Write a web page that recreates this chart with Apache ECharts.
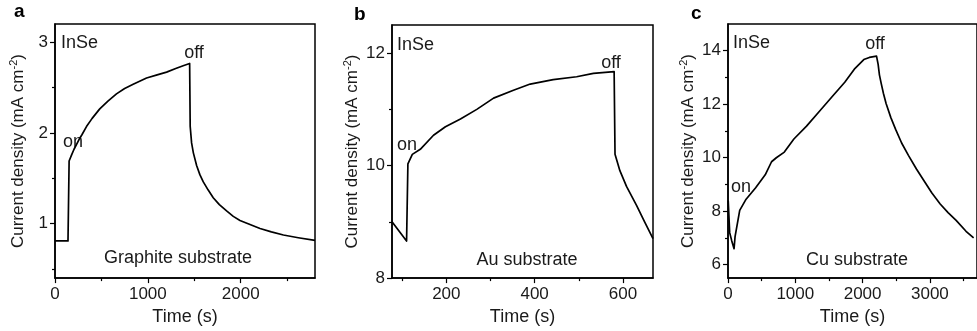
<!DOCTYPE html>
<html>
<head>
<meta charset="utf-8">
<script src="https://cdn.jsdelivr.net/npm/echarts@6/dist/echarts.min.js"></script>
<style>
  html, body { margin: 0; padding: 0; background: #fff; }
  #chart { width: 977px; height: 331px; }
</style>
</head>
<body>
<div id="chart"></div>
<script>
// panel a - graphite substrate
const timeA = [0, 140, 152, 180, 205, 231, 260, 290, 339, 400, 482, 570, 662, 750, 842, 986, 1100, 1202, 1300, 1380, 1450, 1456, 1471, 1490, 1525, 1560, 1597, 1650, 1704, 1770, 1848, 1920, 1992, 2100, 2208, 2330, 2460, 2620, 2800];
const currentA = [0.81, 0.81, 1.69, 1.76, 1.82, 1.87, 1.93, 1.98, 2.07, 2.16, 2.265, 2.35, 2.43, 2.49, 2.535, 2.605, 2.64, 2.67, 2.71, 2.74, 2.765, 2.07, 1.89, 1.78, 1.64, 1.54, 1.46, 1.37, 1.285, 1.21, 1.14, 1.08, 1.035, 0.99, 0.947, 0.91, 0.875, 0.845, 0.815];

// panel b - Au substrate
const timeB = [77, 110, 113, 123, 141, 171, 198, 232, 269, 307, 352, 390, 442, 495, 533, 580, 582, 593, 608, 631, 649, 668];
const currentB = [9.0, 8.66, 10.03, 10.2, 10.29, 10.54, 10.69, 10.83, 11.0, 11.2, 11.34, 11.45, 11.53, 11.58, 11.64, 11.67, 10.2, 9.91, 9.63, 9.29, 9.0, 8.7];

// panel c - Cu substrate
const timeC = [3, 25, 55, 90, 105, 130, 174, 269, 411, 553, 647, 718, 837, 979, 1167, 1356, 1546, 1735, 1877, 2018, 2100, 2207, 2231, 2250, 2278, 2310, 2349, 2420, 2491, 2580, 2681, 2800, 2917, 3030, 3153, 3270, 3390, 3537, 3650];
const currentC = [8.4, 7.2, 6.9, 6.6, 7.05, 7.0, 8.03, 8.45, 8.88, 9.36, 9.85, 10.0, 10.21, 10.7, 11.18, 11.73, 12.28, 12.82, 13.31, 13.67, 13.75, 13.8, 13.49, 13.1, 12.76, 12.4, 12.03, 11.5, 11.06, 10.55, 10.09, 9.58, 9.12, 8.68, 8.27, 7.95, 7.66, 7.25, 7.0];

// tick labels
const xTicksA = [0, 1000, 2000];
const xMinorA = [500, 1500, 2500];
const yTicksA = [1, 2, 3];
const yMinorA = [0.5, 1.5, 2.5];
const xTicksB = [200, 400, 600];
const xMinorB = [100, 300, 500];
const yTicksB = [8, 10, 12];
const yMinorB = [9, 11];
const xTicksC = [0, 1000, 2000, 3000];
const xMinorC = [500, 1500, 2500, 3500];
const yTicksC = [6, 8, 10, 12, 14];
const yMinorC = [7, 9, 11, 13];

const zip = (xs, ys) => xs.map((x, i) => [x, ys[i]]);

const FONT = 'Liberation Sans';
const TXT = '#1a1a1a';

const myChart = echarts.init(document.getElementById('chart'));

function mainX(grid, min, max, ticks) {
	return {
		type: 'value', gridIndex: grid, min: min, max: max, position: 'bottom',
		name: 'Time (s)', nameLocation: 'middle', nameGap: 23,
		nameTextStyle: {fontFamily: FONT, fontSize: 18, color: TXT},
		axisLine: {show: true, lineStyle: {color: '#000', width: 1.5}},
		axisTick: {show: true, length: 5, customValues: ticks, lineStyle: {color: '#000', width: 1.2}},
		axisLabel: {customValues: ticks, margin: 8, fontFamily: FONT, fontSize: 17, color: TXT, formatter: v => String(v)},
		splitLine: {show: false}
	};
}
function minorX(grid, min, max, ticks) {
	return {
		type: 'value', gridIndex: grid, min: min, max: max, position: 'bottom', offset: 0,
		axisLine: {show: false},
		axisTick: {show: true, length: 3, customValues: ticks, lineStyle: {color: '#000', width: 1.2}},
		axisLabel: {show: false},
		splitLine: {show: false}
	};
}
function mainY(grid, min, max, ticks, gap) {
	return {
		type: 'value', gridIndex: grid, min: min, max: max, position: 'left',
		name: 'Current density (mA cm{sup|-2})', nameLocation: 'middle', nameGap: gap, nameRotate: 90,
		nameTextStyle: {
			fontFamily: FONT, fontSize: 17, color: TXT, lineHeight: 20,
			rich: {sup: {fontFamily: FONT, fontSize: 11, color: TXT, verticalAlign: 'top', lineHeight: 20}}
		},
		axisLine: {show: true, lineStyle: {color: '#000', width: 1.5}},
		axisTick: {show: true, length: 5, customValues: ticks, lineStyle: {color: '#000', width: 1.2}},
		axisLabel: {customValues: ticks, margin: 7, fontFamily: FONT, fontSize: 17, color: TXT, formatter: v => String(v)},
		splitLine: {show: false}
	};
}
function minorY(grid, min, max, ticks) {
	return {
		type: 'value', gridIndex: grid, min: min, max: max, position: 'left', offset: 0,
		axisLine: {show: false},
		axisTick: {show: true, length: 3, customValues: ticks, lineStyle: {color: '#000', width: 1.2}},
		axisLabel: {show: false},
		splitLine: {show: false}
	};
}
function curve(i, xs, ys) {
	return {
		type: 'line', xAxisIndex: i, yAxisIndex: i, data: zip(xs, ys),
		showSymbol: false, smooth: false, animation: false,
		lineStyle: {color: '#000', width: 1.7, join: 'round'}
	};
}
function label(text, x, y, opts) {
	return {
		type: 'text', x: x, y: y,
		style: Object.assign({text: text, fontFamily: FONT, fontSize: 18, fill: TXT, align: 'left', verticalAlign: 'middle'}, opts || {})
	};
}

const option = {
	backgroundColor: '#fff',
	animation: false,
	grid: [
		{left: 55, top: 24, width: 260, height: 261, show: true, borderColor: '#000', borderWidth: 1.5},
		{left: 392, top: 25, width: 261, height: 262, show: true, borderColor: '#000', borderWidth: 1.5},
		{left: 728, top: 24, width: 261, height: 263, show: true, borderColor: '#000', borderWidth: 1.5}
	],
	xAxis: [
		mainX(0, 0, 2800, xTicksA),
		mainX(1, 77, 668, xTicksB),
		mainX(2, 0, 3700, xTicksC),
		minorX(0, 0, 2800, xMinorA),
		minorX(1, 77, 668, xMinorB),
		minorX(2, 0, 3700, xMinorC)
	],
	yAxis: [
		mainY(0, 0.4, 3.2, yTicksA, 27),
		mainY(1, 8, 12.5, yTicksB, 30),
		mainY(2, 5.5, 15, yTicksC, 29),
		minorY(0, 0.4, 3.2, yMinorA),
		minorY(1, 8, 12.5, yMinorB),
		minorY(2, 5.5, 15, yMinorC)
	],
	series: [
		curve(0, timeA, currentA),
		curve(1, timeB, currentB),
		curve(2, timeC, currentC)
	],
	graphic: [
		label('a', 14, 12, {fontWeight: 'bold', fontSize: 19, fill: '#000'}),
		label('b', 354, 15, {fontWeight: 'bold', fontSize: 19, fill: '#000'}),
		label('c', 691, 14, {fontWeight: 'bold', fontSize: 19, fill: '#000'}),
		label('InSe', 61, 43),
		label('InSe', 397, 45),
		label('InSe', 733, 43),
		label('on', 63, 142),
		label('on', 397, 145),
		label('on', 731, 187),
		label('off', 194, 53, {align: 'center'}),
		label('off', 611, 63, {align: 'center'}),
		label('off', 875, 44, {align: 'center'}),
		label('Graphite substrate', 178, 258, {align: 'center'}),
		label('Au substrate', 527, 260, {align: 'center'}),
		label('Cu substrate', 857, 260, {align: 'center'})
	]
};

myChart.setOption(option);
</script>
</body>
</html>
